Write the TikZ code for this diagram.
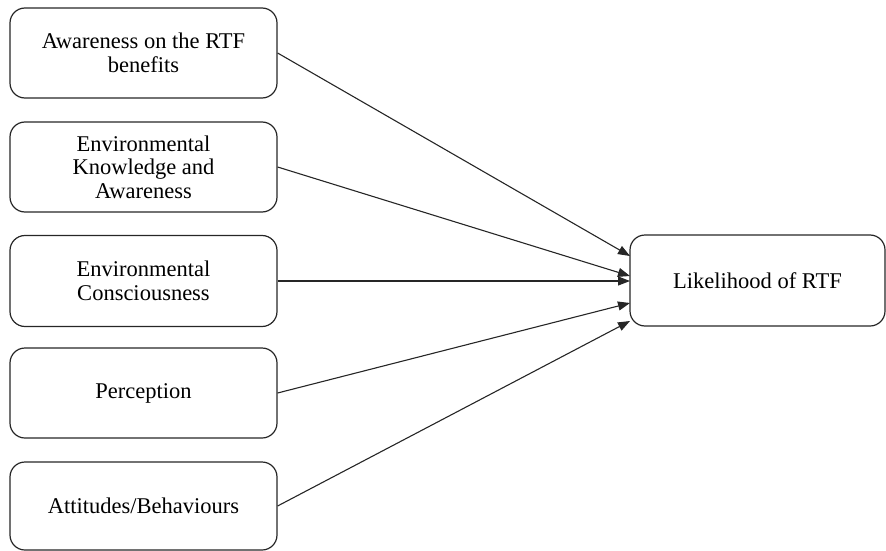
\documentclass[tikz,border=0pt]{standalone}
\usepackage{fontspec}
\setmainfont{Liberation Serif}
\usetikzlibrary{arrows.meta}
\begin{document}
\begin{tikzpicture}[x=1pt,y=-1pt,
  box/.style={draw=black!85,line width=1.2pt,rounded corners=15pt,align=center,
    font=\fontsize{22.5}{23.5}\selectfont},
  conn/.style={draw=black!85,line width=1.1pt,-{Triangle[length=12pt,width=9pt]}}]
\useasboundingbox (0,0) rectangle (886,551);
\node[box,minimum width=267pt,minimum height=90pt] (a) at (143.5,53) {Awareness on the RTF\\benefits};
\node[box,minimum width=267pt,minimum height=90pt] (b) at (143.5,167) {Environmental\\Knowledge and\\Awareness};
\node[box,minimum width=267pt,minimum height=91pt] (c) at (143.5,281) {Environmental\\Consciousness};
\node[box,minimum width=267pt,minimum height=90pt] (d) at (143.5,393) {Perception};
\node[box,minimum width=267pt,minimum height=88pt] (e) at (143.5,506) {Attitudes/Behaviours};
\node[box,minimum width=255pt,minimum height=91pt] (r) at (757.5,280.5) {Likelihood of RTF};
\coordinate (ra) at (630,256);
\coordinate (rb) at (630,276);
\coordinate (rc) at (630,281);
\coordinate (rd) at (630,303);
\coordinate (re) at (630,321);
\draw[conn] (a.east) -- (ra);
\draw[conn] (b.east) -- (rb);
\draw[conn] (c.east) -- (rc);
\draw[conn] (d.east) -- (rd);
\draw[conn] (e.east) -- (re);
\end{tikzpicture}
\end{document}
